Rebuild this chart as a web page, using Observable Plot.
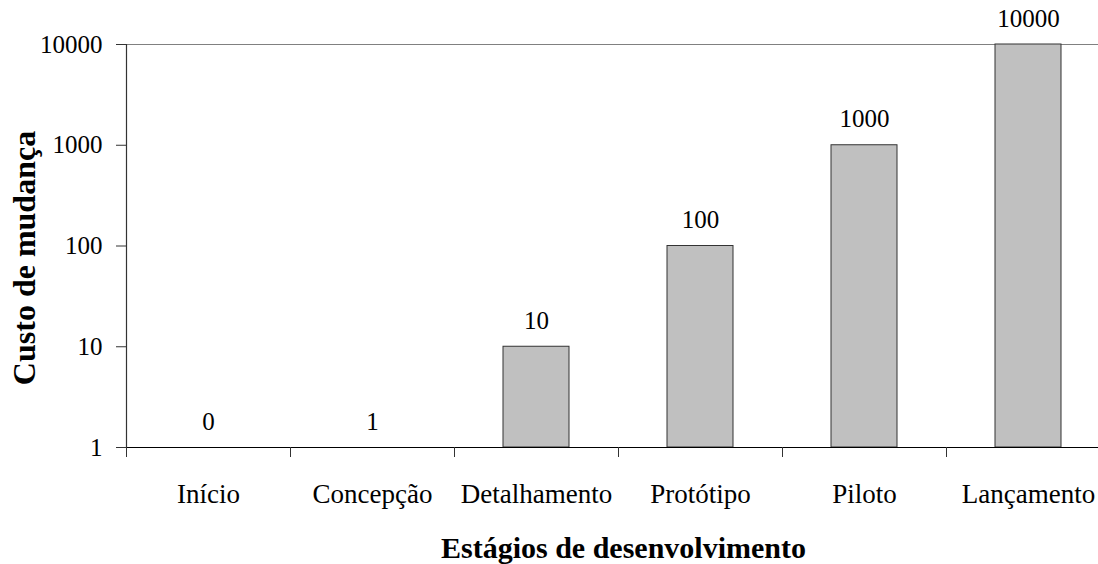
<!DOCTYPE html>
<html>
<head>
<meta charset="utf-8">
<script src="https://cdn.jsdelivr.net/npm/d3@7"></script>
<script src="https://cdn.jsdelivr.net/npm/@observablehq/plot@0.6"></script>
<style>
  html, body { margin: 0; padding: 0; background: #fff; overflow: hidden; }
  #chart svg { overflow: visible; font-family: 'Liberation Serif', 'Times New Roman', serif; }
  #chart svg text { font-family: 'Liberation Serif', 'Times New Roman', serif; font-variant: normal; }
</style>
</head>
<body>
<div id="chart"></div>
<script>
const stages = ["Início", "Concepção", "Detalhamento", "Protótipo", "Piloto", "Lançamento"];
const costs = [0, 1, 10, 100, 1000, 10000];
const yTicks = [1, 10, 100, 1000, 10000];
const yTitle = "Custo de mudança";
const xTitle = "Estágios de desenvolvimento";

const data = stages.map((s, i) => ({stage: s, i, cost: costs[i]}));
const font = "'Liberation Serif', 'Times New Roman', serif";

const chart = Plot.plot({
  width: 1098,
  height: 564,
  marginLeft: 126,
  marginRight: -12,
  marginTop: 44,
  marginBottom: 117,
  style: {fontFamily: font, background: "#fff", overflow: "visible", color: "#000"},
  x: {type: "linear", domain: [0, stages.length]},
  y: {type: "log", domain: [1, 10000]},
  marks: [
    Plot.ruleY([10000], {stroke: "#808080", strokeWidth: 1}),
    Plot.rectY(data.filter(d => d.cost > 1), {
      x1: d => d.i, x2: d => d.i + 1, y1: 1, y2: "cost",
      insetLeft: 49, insetRight: 49,
      fill: "#c0c0c0", stroke: "#333", strokeWidth: 1
    }),
    Plot.ruleY([1], {stroke: "#000", strokeWidth: 1.2}),
    Plot.ruleX([0], {y1: 1, y2: 10000, stroke: "#333", strokeWidth: 1.2}),
    Plot.axisY({
      ticks: yTicks, tickFormat: d => String(d), tickSize: 10, tickPadding: 14,
      fontSize: 25, fontFamily: font, fontVariant: "normal", stroke: "#333", label: null
    }),
    Plot.axisX({
      ticks: d3.range(0, stages.length + 1), tickFormat: () => "", tickSize: 10,
      stroke: "#333", label: null
    }),
    Plot.axisX({
      ticks: stages.map((_, i) => i + 0.5), tickFormat: v => stages[Math.floor(v)],
      tickSize: 0, tickPadding: 36, fontSize: 27, fontFamily: font, label: null
    }),
    Plot.text(data, {
      x: d => d.i + 0.5, y: d => Math.max(d.cost, 1), text: d => String(d.cost),
      dy: -26, fontSize: 25, fontFamily: font, fontVariant: "normal", fill: "#000"
    }),
    Plot.text([yTitle], {
      frameAnchor: "left", textAnchor: "middle", rotate: -90, dx: -102, dy: 12,
      fontSize: 32, fontWeight: "bold", fontFamily: font, fill: "#000"
    }),
    Plot.text([xTitle], {
      frameAnchor: "bottom", textAnchor: "middle", dx: 5, dy: 110,
      fontSize: 30, fontWeight: "bold", fontFamily: font, fill: "#000"
    })
  ]
});
document.getElementById("chart").appendChild(chart);
</script>
</body>
</html>
